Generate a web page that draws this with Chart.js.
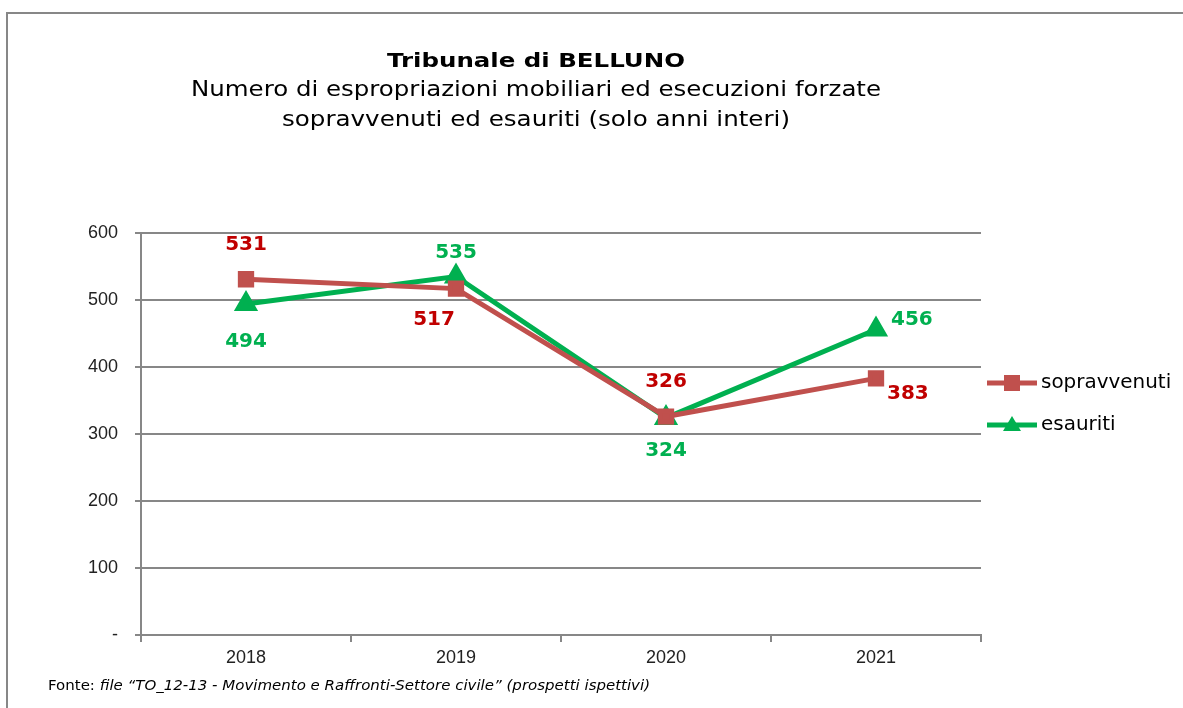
<!DOCTYPE html>
<html>
<head>
<meta charset="utf-8">
<script src="https://cdn.jsdelivr.net/npm/chart.js@4.4.1/dist/chart.umd.min.js"></script>
<style>
  html, body { margin: 0; padding: 0; background: #fff; }
  #wrap { position: relative; width: 1183px; height: 708px; }
</style>
</head>
<body>
<div id="wrap"><canvas id="graph" width="1183" height="708"></canvas></div>
<script>
var anni = ['2018', '2019', '2020', '2021']
var sopravvenuti = [531, 517, 326, 383]
var esauriti = [494, 535, 324, 456]
var yTicks = [0, 100, 200, 300, 400, 500, 600]

var titolo = 'Tribunale di BELLUNO'
var sottotitolo = ['Numero di espropriazioni mobiliari ed esecuzioni forzate', 'sopravvenuti ed esauriti (solo anni interi)']
var fonteA = 'Fonte: '
var fonteB = 'file \u201CTO_12-13 - Movimento e Raffronti-Settore civile\u201D (prospetti ispettivi)'

// spostamento delle etichette rispetto al punto [dx, dy, allineamento]
var posEtichette = [
	[[0, -34, 'center'], [-22, 31, 'center'], [0, -35, 'center'], [11, 15, 'left']],
	[[0, 38, 'center'], [0, -24, 'center'], [0, 33, 'center'], [15, -10, 'left']]
]
var coloriEtichette = ['#C00000', '#00B050']

var grigio = '#878787'

// scrive un testo stirandolo in orizzontale fino alla larghezza voluta
function scriviLargo(ctx, testo, x, y, larghezza, allinea) {
	var w = ctx.measureText(testo).width
	var sx = larghezza / w
	ctx.save()
	ctx.textAlign = 'left'
	var x0 = x
	if (allinea === 'center') x0 = x - larghezza / 2
	ctx.translate(x0, y)
	ctx.scale(sx, 1)
	ctx.fillText(testo, 0, 0)
	ctx.restore()
}

var decorazioni = {
	id: 'decorazioni',
	afterDraw: function (chart) {
		var ctx = chart.ctx
		ctx.save()
		// cornice
		ctx.strokeStyle = grigio
		ctx.lineWidth = 2
		ctx.beginPath()
		ctx.moveTo(7, 708)
		ctx.lineTo(7, 13)
		ctx.lineTo(1183, 13)
		ctx.stroke()

		// titoli
		ctx.fillStyle = '#000'
		ctx.textBaseline = 'middle'
		ctx.font = 'bold 20px "DejaVu Sans"'
		scriviLargo(ctx, titolo, 536, 62, 298, 'center')
		ctx.font = '21px "DejaVu Sans"'
		scriviLargo(ctx, sottotitolo[0], 536, 91, 690, 'center')
		scriviLargo(ctx, sottotitolo[1], 536, 121, 508, 'center')

		// etichette dati
		ctx.font = 'bold 20px "DejaVu Sans"'
		chart.data.datasets.forEach(function (ds, i) {
			var meta = chart.getDatasetMeta(i)
			meta.data.forEach(function (pt, j) {
				var p = posEtichette[i][j]
				ctx.fillStyle = coloriEtichette[i]
				ctx.textAlign = p[2]
				ctx.fillText(String(ds.data[j]), pt.x + p[0], pt.y + p[1])
			})
		})

		// legenda
		chart.data.datasets.forEach(function (ds, i) {
			var y = 383 + i * 42
			ctx.strokeStyle = ds.borderColor
			ctx.lineWidth = 5
			ctx.beginPath()
			ctx.moveTo(987, y)
			ctx.lineTo(1037, y)
			ctx.stroke()
			ctx.fillStyle = ds.pointBackgroundColor
			if (ds.pointStyle === 'rect') {
				ctx.fillRect(1004, y - 8, 16, 16)
			} else {
				ctx.beginPath()
				ctx.moveTo(1012, y - 9)
				ctx.lineTo(1021, y + 6)
				ctx.lineTo(1003, y + 6)
				ctx.closePath()
				ctx.fill()
			}
			ctx.fillStyle = '#000'
			ctx.font = '19px "DejaVu Sans"'
			var w = ctx.measureText(ds.label).width
			scriviLargo(ctx, ds.label, 1041, y, w * 1.05, 'left')
		})

		// fonte
		ctx.fillStyle = '#000'
		ctx.font = '14px "DejaVu Sans"'
		var wa = ctx.measureText(fonteA).width
		ctx.font = 'italic 14px "DejaVu Sans"'
		var wb = ctx.measureText(fonteB).width
		var k = 602 / (wa + wb)
		ctx.font = '14px "DejaVu Sans"'
		scriviLargo(ctx, fonteA, 48, 686, wa * k, 'left')
		ctx.font = 'italic 14px "DejaVu Sans"'
		scriviLargo(ctx, fonteB, 48 + wa * k, 686, wb * k, 'left')
		ctx.restore()
	}
}

var ctx = document.getElementById('graph').getContext('2d')
var myChart = new Chart(ctx, {
	type: 'line',
	data: {
		labels: anni,
		datasets: [{
			label: 'sopravvenuti',
			data: sopravvenuti,
			borderColor: '#C0504D',
			backgroundColor: '#C0504D',
			pointBackgroundColor: '#C0504D',
			pointBorderColor: '#C0504D',
			pointStyle: 'rect',
			pointRadius: 8,
			borderWidth: 5,
			tension: 0
		}, {
			label: 'esauriti',
			data: esauriti,
			borderColor: '#00B050',
			backgroundColor: '#00B050',
			pointBackgroundColor: '#00B050',
			pointBorderColor: '#00B050',
			pointStyle: 'triangle',
			pointRadius: 9,
			borderWidth: 5,
			tension: 0
		}]
	},
	options: {
		responsive: false,
		animation: false,
		layout: { padding: { top: 233, right: 202, bottom: 0, left: 0 } },
		plugins: {
			legend: { display: false },
			title: { display: false },
			tooltip: { enabled: false }
		},
		scales: {
			x: {
				offset: true,
				grid: { offset: true, drawOnChartArea: false, color: grigio, lineWidth: 2, tickLength: 7 },
				border: { color: grigio, width: 2 },
				ticks: { color: '#222', padding: 5, font: { family: '"Liberation Sans"', size: 18 } },
				afterFit: function (s) { s.height = 73 }
			},
			y: {
				min: 0,
				max: 600,
				afterBuildTicks: function (s) { s.ticks = yTicks.map(function (v) { return { value: v } }) },
				grid: { color: grigio, lineWidth: 2, tickLength: 6 },
				border: { color: grigio, width: 2 },
				ticks: {
					color: '#222',
					padding: 17,
					font: { family: '"Liberation Sans"', size: 18 },
					callback: function (v) { return v === 0 ? '-' : v }
				},
				afterFit: function (s) { s.width = 141 }
			}
		}
	},
	plugins: [decorazioni]
})
</script>
</body>
</html>
